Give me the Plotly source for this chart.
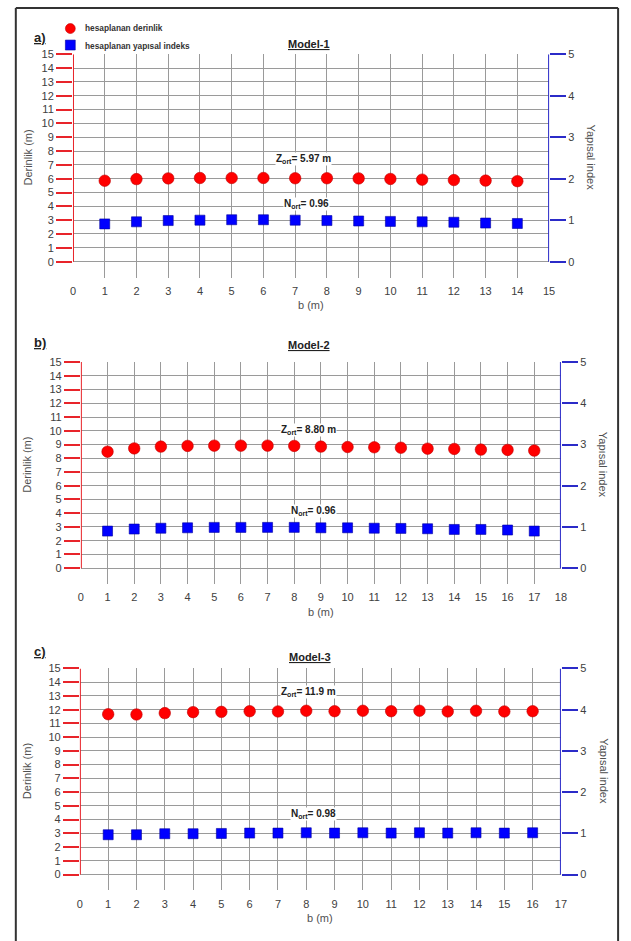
import plotly.graph_objects as go

W, H = 631, 941
FONT = "Liberation Sans, Arial, sans-serif"

# ---------------- data ----------------
x_a = list(range(1, 15))
depth_a = [5.85, 5.97, 6.02, 6.05, 6.05, 6.05, 6.03, 6.03, 6.02, 5.98, 5.93, 5.90, 5.86, 5.82]
index_a = [0.91, 0.96, 0.99, 1.00, 1.01, 1.01, 1.00, 0.99, 0.98, 0.97, 0.96, 0.95, 0.93, 0.92]

x_b = list(range(1, 18))
depth_b = [8.48, 8.72, 8.85, 8.90, 8.92, 8.92, 8.92, 8.90, 8.85, 8.82, 8.80, 8.77, 8.70, 8.68, 8.63, 8.61, 8.56]
index_b = [0.90, 0.95, 0.97, 0.98, 0.99, 0.99, 0.99, 0.99, 0.98, 0.98, 0.97, 0.965, 0.957, 0.94, 0.94, 0.926, 0.90]

x_c = list(range(1, 17))
depth_c = [11.67, 11.65, 11.75, 11.82, 11.84, 11.89, 11.87, 11.92, 11.89, 11.92, 11.89, 11.92, 11.87, 11.92, 11.87, 11.89]
index_c = [0.965, 0.965, 0.99, 0.99, 0.997, 1.005, 1.005, 1.013, 1.005, 1.013, 1.005, 1.013, 1.005, 1.013, 1.005, 1.013]

x_max = [15, 18, 17]
panel_labels = ["a)", "b)", "c)"]
model_titles = ["Model-1", "Model-2", "Model-3"]
z_texts = ["Z<sub>ort</sub>= 5.97 m", "Z<sub>ort</sub>= 8.80 m", "Z<sub>ort</sub>= 11.9 m"]
n_texts = ["N<sub>ort</sub>= 0.96", "N<sub>ort</sub>= 0.96", "N<sub>ort</sub>= 0.98"]
legend_names = ["hesaplanan derinlik", "hesaplanan yapısal indeks"]

# ---------------- geometry (pixels) ----------------
geo = [
    dict(l=71, r=554, top=48.5, bot=273.3),
    dict(l=79, r=566, top=358.4, bot=581.7),
    dict(l=78, r=566, top=666.7, bot=890.0),
]
YMIN = -1.15
label_pos = [(38, 32), (38, 339), (38, 650)]
title_pos = [(310, 38), (310, 341), (311, 655)]
z_pos = [(7.25, 7.42), (8.55, 10.06), (8.08, 13.3)]
n_pos = [(7.37, 4.19), (8.73, 4.15), (8.25, 4.39)]

RED = "#ff0000"
BLUE = "#0000ff"
RED_AX = "#e8242a"
BLUE_AX = "#2b2bc8"
GRID = "#9a9a9a"
TXT = "#404040"


def px(x):
    return x / W


def py(y):
    return 1 - y / H


def ann(**kw):
    d = dict(showarrow=False, xanchor="center", yanchor="middle")
    d.update(kw)
    return d


fig = go.Figure()
shapes = []
annotations = []

data = [(x_a, depth_a, index_a), (x_b, depth_b, index_b), (x_c, depth_c, index_c)]

for i, (xs, dep, idx) in enumerate(data):
    g = geo[i]
    xa = "x" if i == 0 else f"x{i+1}"
    ya = "y" if i == 0 else f"y{2*i+1}"
    yb = f"y{2*i+2}"
    xkey = "xaxis" if i == 0 else f"xaxis{i+1}"
    ykey = "yaxis" if i == 0 else f"yaxis{2*i+1}"
    ykey2 = f"yaxis{2*i+2}"
    N = x_max[i]

    fig.add_trace(go.Scatter(
        x=xs, y=dep, mode="markers", xaxis=xa, yaxis=ya, showlegend=False,
        marker=dict(symbol="circle", size=11.5, color=RED, line=dict(color="#c00000", width=0.6)),
        name=legend_names[0]))
    fig.add_trace(go.Scatter(
        x=xs, y=idx, mode="markers", xaxis=xa, yaxis=yb, showlegend=False,
        marker=dict(symbol="square", size=10, color=BLUE, line=dict(color="#0000a0", width=0.6)),
        name=legend_names[1]))

    fig.layout[xkey] = dict(
        domain=[px(g["l"]), px(g["r"])], anchor=ya, range=[0, N],
        tickvals=list(range(0, N + 1)), showgrid=True, gridcolor=GRID, gridwidth=1,
        zeroline=False, showline=False, ticks="outside", ticklen=3,
        tickcolor="rgba(0,0,0,0)", tickfont=dict(family=FONT, size=11, color=TXT),
        fixedrange=True)
    fig.layout[ykey] = dict(
        domain=[py(g["bot"]), py(g["top"])], anchor=xa, range=[YMIN, 15],
        tickvals=list(range(0, 16)), showgrid=True, gridcolor=GRID, gridwidth=1,
        zeroline=False, showline=False, ticks="outside", ticklen=16, tickwidth=2,
        tickcolor=RED_AX, tickfont=dict(family=FONT, size=11, color=TXT),
        fixedrange=True)
    fig.layout[ykey2] = dict(
        overlaying=ya, anchor=xa, side="right", range=[YMIN / 3, 5],
        tickvals=list(range(0, 6)), showgrid=False, zeroline=False, showline=False,
        ticks="outside", ticklen=16, tickwidth=2, tickcolor=BLUE_AX,
        tickfont=dict(family=FONT, size=11, color=TXT), fixedrange=True)

    shapes.append(dict(type="line", xref=xa, yref=ya, x0=0, x1=0, y0=0, y1=15,
                       line=dict(color=RED_AX, width=2)))
    shapes.append(dict(type="line", xref=xa, yref=yb, x0=N, x1=N, y0=0, y1=5,
                       line=dict(color=BLUE_AX, width=2)))

    y0px = g["top"] + (g["bot"] - g["top"]) * 15 / (15 - YMIN)
    ymid = (g["top"] + y0px) / 2
    annotations.append(ann(xref="paper", yref="paper", x=px(25), y=py(ymid),
                           text="Derinlik (m)", textangle=-90,
                           font=dict(family=FONT, size=11, color="#505050")))
    annotations.append(ann(xref="paper", yref="paper", x=px(g["r"] + 43), y=py(ymid),
                           text="Yapısal index", textangle=90,
                           font=dict(family=FONT, size=11, color="#505050")))
    annotations.append(ann(xref="paper", yref="paper", x=px((g["l"] + g["r"]) / 2),
                           y=py(g["bot"] + 28), text="b (m)",
                           font=dict(family=FONT, size=11, color="#505050")))
    lx, ly = label_pos[i]
    annotations.append(ann(xref="paper", yref="paper", x=px(lx), y=py(ly),
                           text=f"<b><u>{panel_labels[i]}</u></b>",
                           font=dict(family=FONT, size=13, color="#222222")))
    tx, ty = title_pos[i]
    annotations.append(ann(xref="paper", yref="paper", x=px(tx), y=py(ty),
                           text=f"<b><u>{model_titles[i]}</u></b>",
                           font=dict(family=FONT, size=11, color="#222222")))
    annotations.append(ann(xref=xa, yref=ya, x=z_pos[i][0], y=z_pos[i][1],
                           text=f"<b>{z_texts[i]}</b>", bgcolor="white", borderpad=0,
                           font=dict(family=FONT, size=10, color="#222222")))
    annotations.append(ann(xref=xa, yref=ya, x=n_pos[i][0], y=n_pos[i][1],
                           text=f"<b>{n_texts[i]}</b>", bgcolor="white", borderpad=0,
                           font=dict(family=FONT, size=10, color="#222222")))

# legend (manual)
shapes.append(dict(type="circle", xref="paper", yref="paper",
                   x0=px(63.3), x1=px(73.3), y0=py(27.7), y1=py(17.7),
                   fillcolor=RED, line=dict(color="#c00000", width=0.6)))
shapes.append(dict(type="rect", xref="paper", yref="paper",
                   x0=px(63.3), x1=px(73.3), y0=py(44.3), y1=py(34.3),
                   fillcolor=BLUE, line=dict(color="#0000a0", width=0.6)))
annotations.append(ann(xref="paper", yref="paper", x=px(81), y=py(22.5), xanchor="left",
                       text=f"<b>{legend_names[0]}</b>",
                       font=dict(family=FONT, size=8.3, color="#333333")))
annotations.append(ann(xref="paper", yref="paper", x=px(81), y=py(40.5), xanchor="left",
                       text=f"<b>{legend_names[1]}</b>",
                       font=dict(family=FONT, size=8.3, color="#333333")))

# outer frame (four edges)
frame = dict(color="#333333", width=2)
shapes.append(dict(type="line", xref="paper", yref="paper", x0=px(13), x1=px(13),
                   y0=0, y1=py(2), line=frame))
shapes.append(dict(type="line", xref="paper", yref="paper", x0=px(624), x1=px(624),
                   y0=0, y1=py(2), line=frame))
shapes.append(dict(type="line", xref="paper", yref="paper", x0=px(13), x1=px(624),
                   y0=py(2), y1=py(2), line=frame))

fig.update_layout(
    width=W, height=H, margin=dict(l=0, r=0, t=0, b=0),
    paper_bgcolor="white", plot_bgcolor="white",
    shapes=shapes, annotations=annotations, showlegend=False,
    font=dict(family=FONT),
)

fig.write_html(
    "out.html",
    config={"displayModeBar": False},
    post_script="document.body.style.margin='0';document.documentElement.style.overflow='hidden';document.body.style.overflow='hidden';",
)
